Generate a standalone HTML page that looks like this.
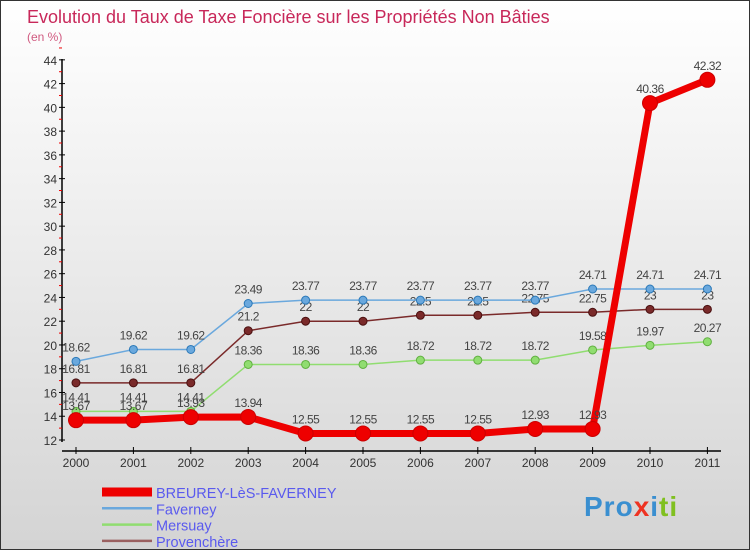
<!DOCTYPE html>
<html><head><meta charset="utf-8"><style>
body{margin:0}
#c{position:relative;width:750px;height:550px;box-sizing:border-box;border:1px solid #333;background:linear-gradient(#ffffff,#d4d4d4);font-family:"Liberation Sans",sans-serif;overflow:hidden}
</style></head><body>
<div id="c">
<svg id="s" width="750" height="550" style="position:absolute;left:0;top:0">
<text x="26" y="22" font-size="18" fill="#c8285a">Evolution du Taux de Taxe Foncière sur les Propriétés Non Bâties</text>
<text x="26" y="40" font-size="12" fill="#d05a80">(en %)</text>
<g id="g"></g>
</svg>
<div style="position:absolute;left:583px;top:490px;font-size:28px;font-weight:bold;color:#f0a020;letter-spacing:1px"><span style="color:#3a8fd0">Pro</span><span style="color:#ee3322">x</span><span style="color:#3a8fd0">i</span><span style="color:#80c020">ti</span></div>
</div>
<script>
const years=[2000,2001,2002,2003,2004,2005,2006,2007,2008,2009,2010,2011];
const breurey=[13.67,13.67,13.93,13.94,12.55,12.55,12.55,12.55,12.93,12.93,40.36,42.32];
const faverney=[18.62,19.62,19.62,23.49,23.77,23.77,23.77,23.77,23.77,24.71,24.71,24.71];
const mersuay=[14.41,14.41,14.41,18.36,18.36,18.36,18.72,18.72,18.72,19.58,19.97,20.27];
const provenchere=[16.81,16.81,16.81,21.2,22,22,22.5,22.5,22.75,22.75,23,23];
const yTicks=[12,14,16,18,20,22,24,26,28,30,32,34,36,38,40,42,44];
const seriesNames=["BREUREY-LèS-FAVERNEY","Faverney","Mersuay","Provenchère"];
const NS="http://www.w3.org/2000/svg",g=document.getElementById('g');
const X=i=>75+i*57.4, Y=v=>439-(v-12)*11.88;
function el(t,a,p){const e=document.createElementNS(NS,t);for(const k in a)e.setAttribute(k,a[k]);(p||g).appendChild(e);return e;}
let ax=el('line',{x1:61,y1:58,x2:61,y2:441,stroke:'#000','stroke-width':1.5});


let xa=el('line',{x1:61,y1:450,x2:720,y2:450,stroke:'#000','stroke-width':1.5});


yTicks.forEach(v=>{
 el('line',{x1:58,x2:64,y1:Y(v),y2:Y(v),stroke:'#000'});
 el('line',{x1:58,x2:61,y1:Y(v+1),y2:Y(v+1),stroke:'#e00'});
 const t=el('text',{x:56,y:Y(v)+5,'font-size':12,'text-anchor':'end',fill:'#333'});
 t.textContent=v;
 
 
});
years.forEach((yr,i)=>{
 el('line',{x1:X(i),x2:X(i),y1:446,y2:453,stroke:'#000'});
 const t=el('text',{x:X(i),y:466,'font-size':12,'text-anchor':'middle',fill:'#333'});
 t.textContent=yr;
 
 
});
function series(d,col,w,r,name,dark){
 const pts=d.map((v,i)=>X(i)+','+Y(v)).join(' ');
 const l=el('polyline',{points:pts,fill:'none',stroke:col,'stroke-width':w});
 
 
 d.forEach((v,i)=>{
  const c=el('circle',{cx:X(i),cy:Y(v),r:r,fill:col,stroke:dark,'stroke-width':1});
  
  
  const t=el('text',{x:X(i),y:Y(v)-10,'font-size':12,'text-anchor':'middle',fill:'#444','letter-spacing':'-0.5'});
  t.textContent=v;
  
  
 });
}
series(provenchere,'#7a2a2a',1.5,4,'provenchere','#4a1010');
series(mersuay,'#90dd70',1.5,4,'mersuay','#60b040');
series(faverney,'#6aa8dd',1.5,4,'faverney','#2a78b8');
series(breurey,'#ee0000',7,7.5,'breurey','#cc0000');
const lg=[['#ee0000',9],['#6aa8dd',2.5],['#90dd70',2.5],['#9a6060',2.5]];
seriesNames.forEach((n,i)=>{
 const y=491+i*16.3;
 const l=el('line',{x1:101,x2:151,y1:y,y2:y,stroke:lg[i][0],'stroke-width':lg[i][1]});
 
 
 const t=el('text',{x:155,y:y+6,'font-size':14.5,fill:'#5a5aee'});
 t.textContent=n;
 
 
});
</script>
</body></html>
